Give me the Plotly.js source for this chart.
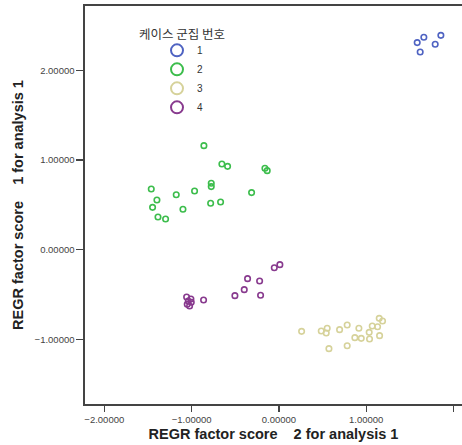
<!DOCTYPE html>
<html>
<head>
<meta charset="utf-8">
<script src="https://cdn.plot.ly/plotly-3.0.1.min.js"></script>
<style>html,body{margin:0;padding:0;overflow:hidden;background:#fff}</style>
</head>
<body>
<div id="chart" style="width:462px;height:445px"></div>
<script>
// Cluster 1
const c1x = [1.584, 1.660, 1.618, 1.790, 1.855];
const c1y = [2.309, 2.368, 2.204, 2.290, 2.390];
// Cluster 2
const c2x = [-0.859, -0.653, -0.588, -0.160, -0.134, -0.775, -0.775, -1.462, -1.176, -0.966, -0.313, -1.397, -1.447, -1.099, -0.782, -0.668, -1.385, -1.298];
const c2y = [1.160, 0.955, 0.929, 0.907, 0.881, 0.740, 0.703, 0.677, 0.613, 0.654, 0.636, 0.554, 0.472, 0.450, 0.517, 0.532, 0.364, 0.342];
// Cluster 3
const c3x = [0.260, 0.485, 0.553, 0.542, 0.695, 0.782, 0.916, 0.870, 0.943, 1.034, 1.038, 1.069, 1.130, 1.153, 1.149, 1.187, 0.573, 0.782];
const c3y = [-0.911, -0.907, -0.877, -0.929, -0.892, -0.840, -0.877, -0.981, -0.989, -0.922, -0.996, -0.851, -0.859, -0.959, -0.766, -0.796, -1.104, -1.071];
// Cluster 4
const c4x = [0.011, -0.053, -0.359, -0.221, -0.397, -0.504, -0.210, -0.863, -1.057, -1.008, -1.038, -1.004, -1.050, -1.023];
const c4y = [-0.167, -0.201, -0.323, -0.349, -0.446, -0.513, -0.509, -0.561, -0.528, -0.550, -0.572, -0.587, -0.610, -0.628];

const names = ['1', '2', '3', '4'];
const colors = ['#4f63c2', '#3cbd4c', '#d6d29a', '#883a8e'];
const xs = [c1x, c2x, c3x, c4x];
const ys = [c1y, c2y, c3y, c4y];

const traces = names.map((n, i) => ({
  type: 'scatter', mode: 'markers', name: n,
  x: xs[i], y: ys[i],
  marker: {symbol: 'circle-open', size: 5.5, color: colors[i], line: {width: 1.6, color: colors[i]}},
  hoverinfo: 'skip'
}));

const tickFont = {family: 'Liberation Sans, Arial, sans-serif', size: 9.5, color: '#444'};
const titleFont = {family: 'Liberation Sans, Arial, sans-serif', size: 14.5, color: '#222', weight: 'bold'};
const layout = {
  width: 462, height: 445,
  margin: {l: 85, r: 0, t: 6, b: 41},
  paper_bgcolor: '#fff', plot_bgcolor: '#fff',
  showlegend: true,
  legend: {
    x: 0.191, y: 0.925, xanchor: 'left', yanchor: 'top',
    itemsizing: 'constant', bgcolor: 'rgba(0,0,0,0)',
    font: {family: 'Liberation Sans, Arial, sans-serif', size: 10, color: '#333'},
    tracegroupgap: 0
  },
  xaxis: {
    range: [-2.221, 2.097], tickvals: [-2, -1, 0, 1, 2], tickformat: '.5f',
    showgrid: false, zeroline: false,
    showline: true, linecolor: '#444', linewidth: 1.6, mirror: true,
    ticks: 'outside', ticklen: 6, tickcolor: '#444', tickwidth: 1.2,
    tickfont: tickFont,
    title: {text: 'REGR factor score\u00a0\u00a0\u00a0 2 for analysis 1', standoff: 5, font: titleFont}
  },
  yaxis: {
    range: [-1.721, 2.717], tickvals: [-1, 0, 1, 2], tickformat: '.5f',
    showgrid: false, zeroline: false,
    showline: true, linecolor: '#444', linewidth: 1.6, mirror: false,
    ticks: 'outside', ticklen: 7, tickcolor: '#444', tickwidth: 1.2,
    tickfont: tickFont,
    title: {text: 'REGR factor score\u00a0\u00a0\u00a0 1 for analysis 1', standoff: 7, font: titleFont}
  },
  annotations: [{
    text: '케이스 군집 번호', xref: 'paper', yref: 'paper',
    x: (182 - 85) / 377, y: (404 - 33) / 398, xanchor: 'center', yanchor: 'middle',
    showarrow: false,
    font: {family: 'Noto Sans CJK KR, sans-serif', size: 12.5, color: '#333'}
  }]
};

Plotly.newPlot('chart', traces, layout, {staticPlot: true, displayModeBar: false});
</script>
</body>
</html>
